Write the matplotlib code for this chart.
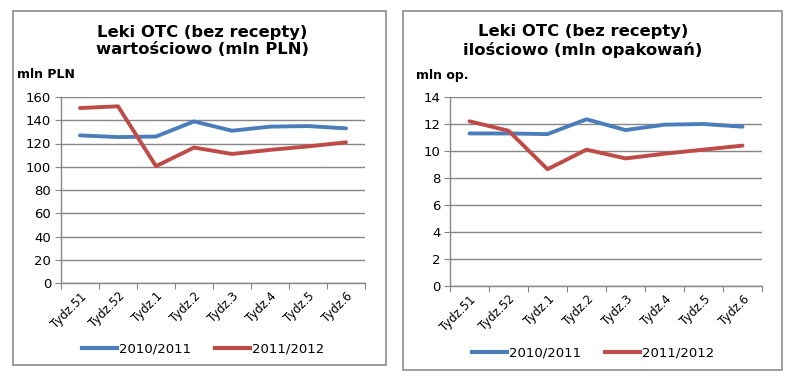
import matplotlib.pyplot as plt
from matplotlib.patches import Rectangle
from matplotlib.lines import Line2D

plt.rcParams['font.family'] = ['DejaVu Sans']

# dane
weeks = ['Tydz.51', 'Tydz.52', 'Tydz.1', 'Tydz.2', 'Tydz.3', 'Tydz.4', 'Tydz.5', 'Tydz.6']
series_names = ['2010/2011', '2011/2012']

value_2010 = [127, 125.5, 126, 139, 131, 134.5, 135, 133]
value_2011 = [150.5, 152, 100.5, 116.5, 111, 114.5, 117.5, 121]

qty_2010 = [11.3, 11.3, 11.25, 12.35, 11.55, 11.95, 12.0, 11.8]
qty_2011 = [12.2, 11.5, 8.65, 10.1, 9.45, 9.8, 10.1, 10.4]

blue = '#4A7EBB'
red = '#BE4B48'
grid_col = '#868686'

W, H = 800, 381
fig = plt.figure(figsize=(8, 3.81), dpi=100)


def fx(px):
    return px / W


def fy(py):
    return 1 - py / H


def chart(ax_px, box_px, title, unit, unit_px, yticks, ymax, s1, s2, leg_y, leg_x):
    x0, y0, x1, y1 = box_px
    fig.patches.append(Rectangle((fx(x0), fy(y1)), fx(x1 - x0), (y1 - y0) / H,
                                 transform=fig.transFigure, fill=False,
                                 edgecolor='#8c8c8c', linewidth=1.2))
    l, t, r, b = ax_px
    ax = fig.add_axes([fx(l), fy(b), fx(r - l), (b - t) / H])
    n = len(weeks)
    xs = range(n)
    ax.plot(xs, s1, color=blue, lw=2.8, solid_capstyle='round', zorder=3)
    ax.plot(xs, s2, color=red, lw=2.8, solid_capstyle='round', zorder=3)
    ax.set_xlim(-0.5, n - 0.5)
    ax.set_ylim(0, ymax)
    ax.set_yticks(yticks)
    ax.set_yticklabels([str(v) for v in yticks], fontsize=9.5)
    ax.set_xticks([i - 0.5 for i in range(n + 1)], minor=False)
    ax.set_xticklabels([])
    ax.set_xticks(list(xs), minor=True)
    ax.set_xticklabels(weeks, minor=True, rotation=45, ha='right',
                       rotation_mode='anchor', fontsize=8.4)
    ax.tick_params(axis='x', which='minor', length=0, pad=5)
    ax.tick_params(axis='x', which='major', length=4, color=grid_col, direction='out')
    ax.tick_params(axis='y', length=4, color=grid_col, direction='out', pad=3)
    ax.grid(axis='y', color=grid_col, lw=1)
    ax.set_axisbelow(True)
    for s in ['top', 'right']:
        ax.spines[s].set_visible(False)
    for s in ['left', 'bottom']:
        ax.spines[s].set_color(grid_col)
    ax.spines['left'].set_linewidth(1)
    ax.spines['bottom'].set_linewidth(1)

    fig.text(fx(title[1]), fy(41), title[0], ha='center', va='center',
             fontsize=11.8, fontweight='bold', linespacing=1.2)
    fig.text(fx(unit_px[0]), fy(unit_px[1]), unit, ha='left', va='center',
             fontsize=9, fontweight='bold')

    handles = [Line2D([], [], color=blue, lw=3), Line2D([], [], color=red, lw=3)]
    fig.legend(handles, series_names, loc='center left', ncol=2, frameon=False,
               bbox_to_anchor=(fx(leg_x), fy(leg_y)), fontsize=9.5,
               handlelength=2.65, handletextpad=0.15, columnspacing=1.8,
               borderpad=0, borderaxespad=0)
    return ax


chart((61, 97, 365, 283), (13, 11, 386, 365),
      ('Leki OTC (bez recepty)\nwartościowo (mln PLN)', 202), 'mln PLN', (17, 75),
      [0, 20, 40, 60, 80, 100, 120, 140, 160], 160, value_2010, value_2011,
      349, 82)

chart((450, 97, 762, 286), (403, 11, 782, 370),
      ('Leki OTC (bez recepty)\nilościowo (mln opakowań)', 583), 'mln op.', (416, 75),
      [0, 2, 4, 6, 8, 10, 12, 14], 14, qty_2010, qty_2011,
      353, 472)

fig.savefig('out.png', dpi=100, facecolor='white')
